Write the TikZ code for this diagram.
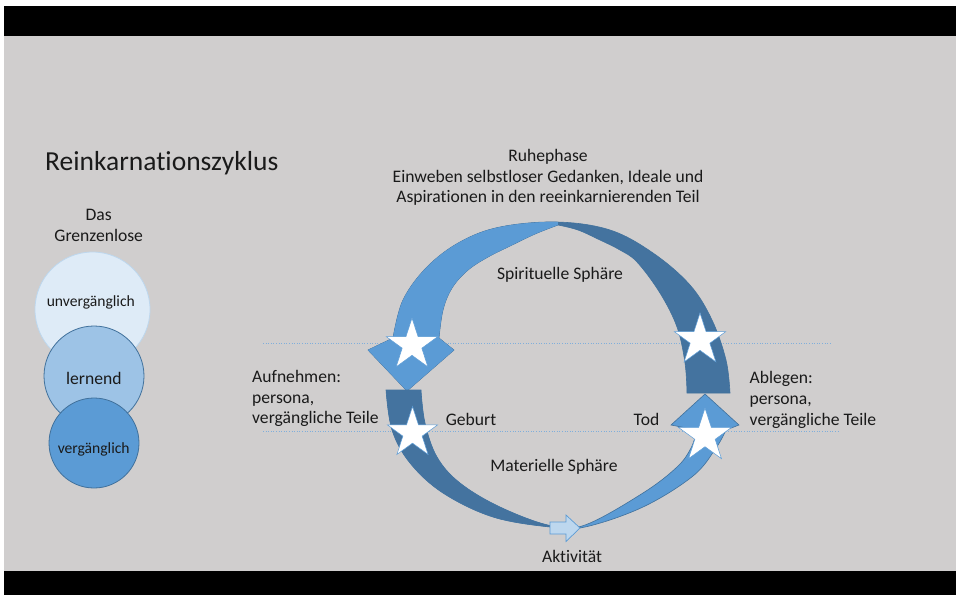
\documentclass[tikz,border=0pt]{standalone}
\usepackage{fontspec}
\setmainfont{Carlito}[Ligatures=NoCommon]
\usetikzlibrary{shapes.geometric}
\definecolor{bg}{HTML}{D0CECE}
\definecolor{lightarc}{HTML}{5B9BD5}
\definecolor{darkarc}{HTML}{44739F}
\definecolor{edgec}{HTML}{41719C}
\definecolor{cone}{HTML}{DEEBF7}
\definecolor{conee}{HTML}{BDD7EE}
\definecolor{ctwo}{HTML}{9DC3E6}
\definecolor{cthree}{HTML}{5B9BD5}
\definecolor{actc}{HTML}{BDD7EE}
\definecolor{dotc}{HTML}{7FAEDB}
\definecolor{txt}{HTML}{1A1A1A}
\begin{document}
\begin{tikzpicture}[x=1pt,y=-1pt,
  lbl/.style={inner sep=0pt, text=txt, font=\fontsize{17.6}{21}\selectfont},
  smalllbl/.style={inner sep=0pt, text=txt, font=\fontsize{15.6}{19}\selectfont},
  guide/.style={dotc, line width=0.8pt, dash pattern=on 1pt off 1.6pt},
  starbox/.style={star, star points=5, star point ratio=2.618, inner sep=0pt, fill=white, draw=lightarc, line width=0.5pt},
  ball/.style={circle, inner sep=0pt, line width=0.8pt},
]
\useasboundingbox (0,0) rectangle (961,595);
\fill[white] (0,0) rectangle (961,595);
\fill[black] (4,6) rectangle (956,595);
\fill[bg] (4,35.5) rectangle (956,571);

% guide lines
\coordinate (g1a) at (263,343); \coordinate (g1b) at (830,343);
\coordinate (g2a) at (263,431); \coordinate (g2b) at (838,431);
\draw[guide] (g1a) -- (g1b);
\draw[guide] (g2a) -- (g2b);

% left column
\node[lbl, anchor=base west, font=\fontsize{27.5}{33}\selectfont] (title) at (45,170) {Reinkarnationszyklus};
\node[lbl, anchor=base] (das) at (98.7,220) {Das};
\node[lbl, anchor=base] (grenz) at (98.7,241) {Grenzenlose};
\node[ball, minimum size=115pt, fill=cone, draw=conee] (cbig) at (92.5,309.5) {};
\node[ball, minimum size=100pt, fill=ctwo, draw=edgec] (cmid) at (94,376) {};
\node[ball, minimum size=90pt, fill=cthree, draw=edgec] (csmall) at (94,443) {};
\node[smalllbl, anchor=base] (tunv) at (90.8,306.5) {unvergänglich};
\node[lbl, anchor=base] (tlern) at (93.8,384) {lernend};
\node[smalllbl, anchor=base] (tverg) at (93.7,453) {vergänglich};

% upper arc (Spirituelle Sphaere)
\filldraw[fill=darkarc, draw=edgec, line width=0.6pt]
 (393,338) -- plot[smooth, tension=0.6] coordinates {(393,338) (403,300) (427,267) (460,242) (500,227) (557,222) (610,230) (653,253) (690,285) (712,320) (726,360) (730,393)}
 -- (687,393) -- plot[smooth, tension=0.6] coordinates {(687,393) (685,363) (677,327) (660,293) (637,262) (620,250) (600,240) (578,230) (558,225)}
 -- plot[smooth, tension=0.6] coordinates {(558,225) (535,234) (510,246) (488,257) (468,270) (452,288) (443,310) (439,338)}
 -- (454,350) -- (407,391) -- (368,350) -- cycle;
\begin{scope}
\clip (393,338) -- plot[smooth, tension=0.6] coordinates {(393,338) (403,300) (427,267) (460,242) (500,227) (557,222) (610,230) (653,253) (690,285) (712,320) (726,360) (730,393)}
 -- (687,393) -- plot[smooth, tension=0.6] coordinates {(687,393) (685,363) (677,327) (660,293) (637,262) (620,250) (600,240) (578,230) (558,225)}
 -- plot[smooth, tension=0.6] coordinates {(558,225) (535,234) (510,246) (488,257) (468,270) (452,288) (443,310) (439,338)}
 -- (454,350) -- (407,391) -- (368,350) -- cycle;
\fill[lightarc] (0,0) rectangle (558,600);
\end{scope}

% lower arc (Materielle Sphaere)
\filldraw[fill=lightarc, draw=edgec, line width=0.6pt]
 (386,390) -- plot[smooth, tension=0.6] coordinates {(386,390) (392,430) (410,463) (443,493) (493,517) (550,527) (585,527) (643,507) (693,476) (716,448) (726,430)}
 -- (739,425) -- (705,394) -- (671,425) -- (697,430)
 -- plot[smooth, tension=0.6] coordinates {(697,430) (691,448) (677,467) (643,493) (585,525) (550,525.5) (500,507) (460,483) (437,457) (425,423) (421,390)} -- cycle;
\begin{scope}
\clip (386,390) -- plot[smooth, tension=0.6] coordinates {(386,390) (392,430) (410,463) (443,493) (493,517) (550,527) (585,527) (643,507) (693,476) (716,448) (726,430)}
 -- (739,425) -- (705,394) -- (671,425) -- (697,430)
 -- plot[smooth, tension=0.6] coordinates {(697,430) (691,448) (677,467) (643,493) (585,525) (550,525.5) (500,507) (460,483) (437,457) (425,423) (421,390)} -- cycle;
\fill[darkarc] (0,380) rectangle (567,600);
\end{scope}

% stars
\node[starbox, minimum size=54pt] (s1) at (412,345) {};
\node[starbox, minimum size=53pt] (s2) at (412.5,433) {};
\node[starbox, minimum size=54pt] (s3) at (700,340) {};
\node[starbox, minimum size=56pt] (s4) at (705,436) {};

% Aktivitaet arrow
\filldraw[fill=actc, draw=lightarc, line width=0.7pt] (550,522) -- (566,522) -- (566,515) -- (580,528) -- (566,541.5) -- (566,534) -- (550,534) -- cycle;

% texts
\node[lbl, anchor=base] (r1) at (548,161) {Ruhephase};
\node[lbl, anchor=base] (r2) at (548,182) {Einweben selbstloser Gedanken, Ideale und};
\node[lbl, anchor=base] (r3) at (548,202.5) {Aspirationen in den reeinkarnierenden Teil};
\node[lbl, anchor=base] (spir) at (560,279.5) {Spirituelle Sphäre};
\node[lbl, anchor=base west] (a1) at (252,382.5) {Aufnehmen:};
\node[lbl, anchor=base west] (a2) at (252,403) {persona,};
\node[lbl, anchor=base west] (a3) at (252,423.5) {vergängliche Teile};
\node[lbl, anchor=base west] (b1) at (749.5,383) {Ablegen:};
\node[lbl, anchor=base west] (b2) at (749.5,404) {persona,};
\node[lbl, anchor=base west] (b3) at (749.5,425) {vergängliche Teile};
\node[lbl, anchor=base] (geb) at (471,425) {Geburt};
\node[lbl, anchor=base] (tod) at (646.5,425) {Tod};
\node[lbl, anchor=base] (mat) at (554,471) {Materielle Sphäre};
\node[lbl, anchor=base] (akt) at (572,562.5) {Aktivität};
\end{tikzpicture}
\end{document}
